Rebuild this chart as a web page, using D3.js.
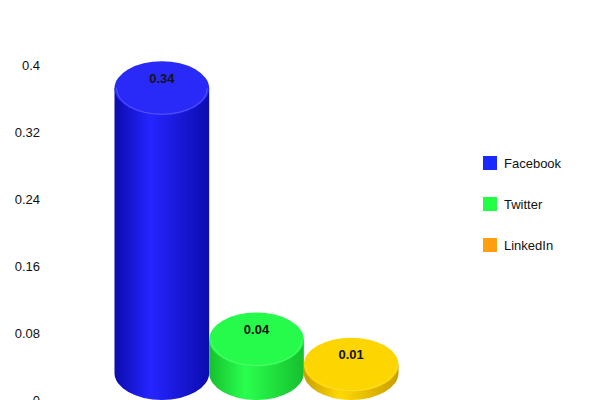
<!DOCTYPE html>
<html><head><meta charset="utf-8">
<script src="https://cdn.jsdelivr.net/npm/d3@7"></script>
<style>body{margin:0;background:#fff}svg{display:block}</style>
</head><body>
<script>
const series = ["Facebook", "Twitter", "LinkedIn"];
const values = [0.34, 0.04, 0.01];
const valueLabels = ["0.34", "0.04", "0.01"];
const yTicks = [0, 0.08, 0.16, 0.24, 0.32, 0.4];
const yTickLabels = ["0", "0.08", "0.16", "0.24", "0.32", "0.4"];
const topColors = ["#2a2af8", "#26fb4c", "#fdd500"];
const sideDark = ["#0c0cae", "#16bf2e", "#c99e00"];
const sideLight = ["#2525ff", "#2aff4e", "#ffd800"];
const legendColors = ["#1a2aff", "#22ff44", "#ff9f10"];

const W = 600, H = 400;
const svg = d3.select("body").append("svg").attr("width", W).attr("height", H);
const y = d3.scaleLinear().domain([0, 0.4]).range([400, 65]);
const x = d3.scaleBand().domain(series).range([114.5, 398.5]).padding(0);
const ry = 27;

const defs = svg.append("defs");
series.forEach((s, i) => {
  const g = defs.append("linearGradient").attr("id", "side" + i).attr("x1", "0").attr("x2", "1").attr("y1", "0").attr("y2", "0");
  g.append("stop").attr("offset", "0%").attr("stop-color", sideDark[i]);
  g.append("stop").attr("offset", "38%").attr("stop-color", sideLight[i]);
  g.append("stop").attr("offset", "100%").attr("stop-color", sideDark[i]);
});

// y axis labels
const yAxis = d3.axisLeft(y).tickValues(yTicks).tickFormat((d, i) => yTickLabels[i]).tickSize(0).tickPadding(0);
const ga = svg.append("g").attr("transform", "translate(40,0)").call(yAxis);
ga.select(".domain").remove();
ga.selectAll("text").attr("font-family", "Liberation Sans, Arial, sans-serif").attr("font-size", 13).attr("fill", "#111");

// cylinders
series.forEach((s, i) => {
  const x0 = x(s), bw = x.bandwidth(), cx = x0 + bw / 2, rx = bw / 2;
  const topC = y(values[i]) - ry;
  const botC = y(0) - ry;
  const g = svg.append("g");
  g.append("path")
    .attr("d", `M${x0},${topC} L${x0},${botC} A${rx},${ry} 0 0 0 ${x0 + bw},${botC} L${x0 + bw},${topC} Z`)
    .attr("fill", `url(#side${i})`);
  g.append("ellipse").attr("cx", cx).attr("cy", topC).attr("rx", rx).attr("ry", ry)
    .attr("fill", topColors[i]);
  g.append("path")
    .attr("d", `M${x0 + 2},${topC} A${rx - 2},${ry - 1} 0 0 0 ${x0 + bw - 2},${topC}`)
    .attr("fill", "none").attr("stroke", "#ffffff").attr("stroke-opacity", 0.2).attr("stroke-width", 1);
  g.append("text").attr("x", cx).attr("y", topC - 10).attr("dy", "0.35em")
    .attr("text-anchor", "middle").attr("font-family", "Liberation Sans, Arial, sans-serif")
    .attr("font-size", 13).attr("font-weight", "bold").attr("fill", "#141414").text(valueLabels[i]);
});

// legend
const leg = svg.append("g");
series.forEach((s, i) => {
  const ly = 163 + i * 41;
  leg.append("rect").attr("x", 483).attr("y", ly - 7).attr("width", 14).attr("height", 14).attr("fill", legendColors[i]);
  leg.append("text").attr("x", 504).attr("y", ly).attr("dy", "0.35em")
    .attr("font-family", "Liberation Sans, Arial, sans-serif").attr("font-size", 13).attr("fill", "#111").text(s);
});
</script>
</body></html>
